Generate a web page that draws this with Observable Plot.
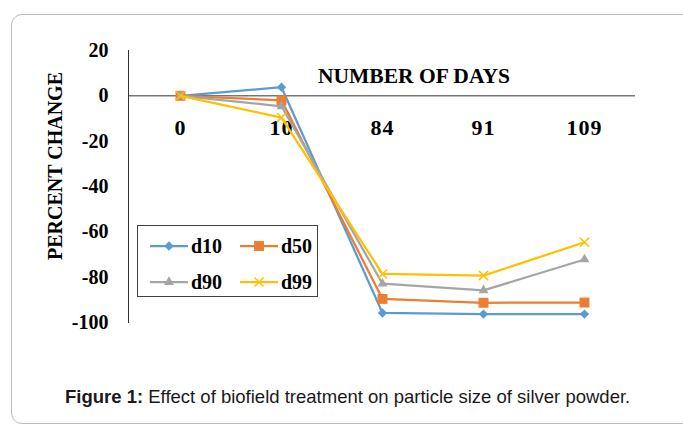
<!DOCTYPE html>
<html>
<head>
<meta charset="utf-8">
<script src="https://cdn.jsdelivr.net/npm/d3@7"></script>
<script src="https://cdn.jsdelivr.net/npm/@observablehq/plot@0.6"></script>
<style>
  html, body { margin: 0; padding: 0; background: #fff; }
  #wrap { position: relative; width: 683px; height: 425px; overflow: hidden; background: #fff; }
  #border { position: absolute; left: 11px; top: 14px; width: 700px; height: 410px; border: 1.5px solid #bcbcbc; border-radius: 11px; box-sizing: border-box; }
  #chart { position: absolute; left: 0; top: 0; }
  #chart svg text { font-family: "Liberation Serif", "Times New Roman", serif !important; font-weight: bold; }
  .serif { font-family: "Liberation Serif", "Times New Roman", serif; font-weight: bold; color: #000; }
  #xtitle { position: absolute; left: 318px; top: 64px; font-size: 21.5px; white-space: nowrap; }
  #ytitle { position: absolute; left: 55px; top: 166px; font-size: 20px; white-space: nowrap; transform: translate(-50%, -50%) rotate(-90deg); }
  #legend { position: absolute; left: 137px; top: 225px; width: 181px; height: 72px; border: 1px solid #404040; box-sizing: border-box; background: #fff; }
  .item { position: absolute; display: flex; align-items: center; font-size: 20px; }
  .item svg { margin-right: 3px; }
  #caption { position: absolute; left: 65px; top: 386px; font-family: "Liberation Sans", Arial, sans-serif; font-size: 18.5px; color: #1a1a1a; white-space: nowrap; }
</style>
</head>
<body>
<div id="wrap">
  <div id="border"></div>
  <div id="chart"></div>
  <div id="xtitle" class="serif">NUMBER OF DAYS</div>
  <div id="ytitle" class="serif">PERCENT CHANGE</div>
  <div id="legend"></div>
  <div id="caption"><b>Figure 1:</b> Effect of biofield treatment on particle size of silver powder.</div>
</div>
<script>
const days = ["0", "10", "84", "91", "109"];
const seriesNames = ["d10", "d50", "d90", "d99"];
const d10 = [0, 3.8, -95.8, -96.3, -96.3];
const d50 = [0, -2.0, -89.6, -91.3, -91.2];
const d90 = [0, -4.6, -82.9, -85.8, -72.2];
const d99 = [0, -9.6, -78.6, -79.3, -64.6];
const yTicks = [-100, -80, -60, -40, -20, 0, 20];
const colors = ["#5B9BD5", "#ED7D31", "#A5A5A5", "#FFC000"];
const symbols = ["diamond2", "square", "triangle", "times"];
const radii = [4.2, 5.6, 3.7, 4.2];

const valuesBySeries = [d10, d50, d90, d99];
const rows = [];
seriesNames.forEach((s, i) => days.forEach((d, j) => rows.push({series: s, day: d, value: valuesBySeries[i][j]})));

const serif = '"Liberation Serif", "Times New Roman", serif';
const marks = [
  Plot.frame({anchor: "left", stroke: "#333", strokeWidth: 1}),
  Plot.ruleY([0], {stroke: "#333", strokeWidth: 1}),
  Plot.axisY({ticks: yTicks, tickSize: 0, tickPadding: 20, label: null, tickFormat: d => String(d), fontFamily: serif, fontWeight: "bold", fontSize: 20}),
  Plot.text(days, {x: d => d, y: () => 0, dy: 32, text: d => d, fontSize: 22, fontWeight: "bold", fontFamily: serif})
];
seriesNames.forEach((s, i) => {
  const data = rows.filter(r => r.series === s);
  marks.push(Plot.line(data, {x: "day", y: "value", stroke: colors[i], strokeWidth: 2.25}));
  if (symbols[i] === "times") {
    marks.push(Plot.dot(data, {x: "day", y: "value", symbol: symbols[i], r: radii[i], stroke: colors[i], strokeWidth: 1.5}));
  } else {
    marks.push(Plot.dot(data, {x: "day", y: "value", symbol: symbols[i], r: radii[i], fill: colors[i], stroke: "none"}));
  }
});

const plot = Plot.plot({
  width: 683,
  height: 360,
  marginTop: 50,
  marginBottom: 38,
  marginLeft: 128,
  marginRight: 48,
  style: {fontFamily: serif, fontSize: "20px", fontWeight: "bold", color: "#000", background: "transparent"},
  x: {type: "point", domain: days, padding: 0.5, axis: null},
  y: {domain: [-100, 20], axis: null},
  marks
});
d3.select(plot).selectAll("g[aria-label=text] text").style("letter-spacing", "1px");
document.getElementById("chart").appendChild(plot);

// legend
const legend = d3.select("#legend");
const pos = [[12, 20], [102, 20], [12, 56], [102, 56]];
seriesNames.forEach((s, i) => {
  const item = legend.append("div").attr("class", "item serif")
    .style("left", pos[i][0] + "px").style("top", (pos[i][1] - 13) + "px").style("height", "26px");
  const sw = item.append("svg").attr("width", 38).attr("height", 20);
  sw.append("line").attr("x1", 0).attr("x2", 38).attr("y1", 10).attr("y2", 10).attr("stroke", colors[i]).attr("stroke-width", 2.25);
  const symType = {diamond2: d3.symbolDiamond2, square: d3.symbolSquare, triangle: d3.symbolTriangle, times: d3.symbolTimes}[symbols[i]];
  const p = sw.append("path").attr("transform", "translate(19,10)")
    .attr("d", d3.symbol(symType, Math.PI * radii[i] * radii[i])());
  if (symbols[i] === "times") p.attr("fill", "none").attr("stroke", colors[i]).attr("stroke-width", 1.5);
  else p.attr("fill", colors[i]);
  item.append("span").text(s);
});
</script>
</body>
</html>
